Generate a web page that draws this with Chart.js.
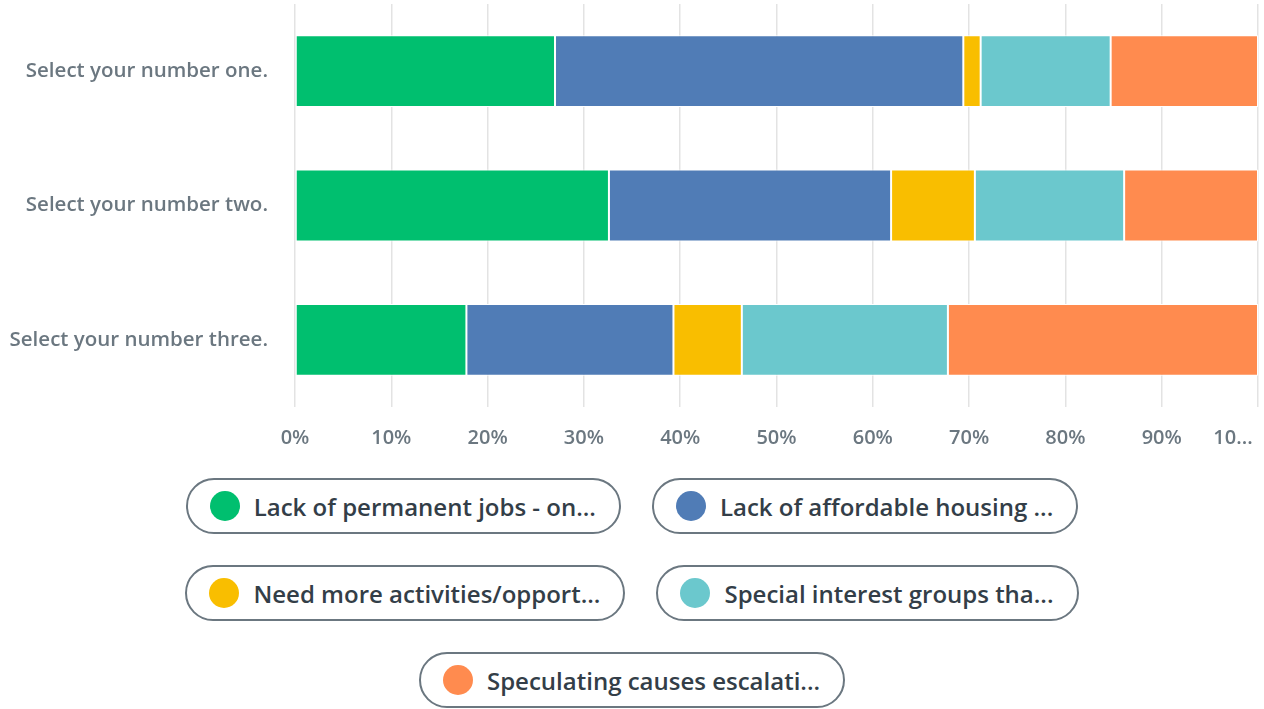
<!DOCTYPE html>
<html>
<head>
<meta charset="utf-8">
<script src="https://cdn.jsdelivr.net/npm/chart.js@4.4.1/dist/chart.umd.min.js"></script>
<style>
    html, body { margin: 0; padding: 0; background: #fff; }
    body { width: 1264px; height: 709px; overflow: hidden; font-family: "Open Sans", sans-serif; }
    #chartBox { position: relative; width: 1264px; height: 469px; }
    #legend { margin-top: 9px; display: flex; flex-direction: column; align-items: center; gap: 31px; }
    .legend-row { display: flex; justify-content: center; gap: 31px; }
    .legend-item {
        display: flex; align-items: center; height: 52px; padding: 0 23px 0 22px;
        border: 2px solid #6b7780; border-radius: 30px; box-sizing: content-box;
        font-size: 24px; font-weight: 600; color: #333e48; white-space: nowrap;
    }
    .legend-dot { width: 30px; height: 30px; border-radius: 50%; margin-right: 14px; flex: none; }
</style>
</head>
<body>
<div id="chartBox"><canvas id="barChart"></canvas></div>
<div id="legend"></div>

<script>
// DATOS
const categories = [
    "Select your number one.",
    "Select your number two.",
    "Select your number three."
];
const seriesNames = [
    "Lack of permanent jobs - on...",
    "Lack of affordable housing ...",
    "Need more activities/opport...",
    "Special interest groups tha...",
    "Speculating causes escalati..."
];
const seriesColors = ['#00bf6f', '#507cb6', '#f9be00', '#6bc8cd', '#ff8b4f'];

const jobsValues = [27.0, 32.6, 17.8];
const housingValues = [42.4, 29.3, 21.5];
const activitiesValues = [1.8, 8.7, 7.1];
const interestValues = [13.5, 15.5, 21.4];
const speculatingValues = [15.3, 13.9, 32.2];
const seriesValues = [jobsValues, housingValues, activitiesValues, interestValues, speculatingValues];

const tickValues = [0, 10, 20, 30, 40, 50, 60, 70, 80, 90, 100];
const tickLabels = ['0%', '10%', '20%', '30%', '40%', '50%', '60%', '70%', '80%', '90%', '10...'];

// GRAFICO
function createBarChart() {
    const ctx = document.getElementById('barChart').getContext('2d');
    new Chart(ctx, {
        type: 'bar',
        data: {
            labels: categories,
            datasets: seriesNames.map((name, i) => ({
                label: name,
                data: seriesValues[i],
                backgroundColor: seriesColors[i],
                borderColor: '#ffffff',
                borderWidth: 1,
                borderSkipped: false,
                barPercentage: 0.535,
                categoryPercentage: 1
            }))
        },
        options: {
            indexAxis: 'y',
            responsive: true,
            maintainAspectRatio: false,
            animation: false,
            layout: { padding: { top: 4, right: 6, left: 0, bottom: 0 } },
            scales: {
                x: {
                    stacked: true,
                    min: 0,
                    max: 100,
                    afterBuildTicks: (scale) => {
                        scale.ticks = tickValues.map(v => ({ value: v }));
                    },
                    afterFit: (scale) => {
                        scale.paddingLeft = 0;
                        scale.paddingRight = 0;
                    },
                    grid: { color: '#e3e3e3', lineWidth: 1.5, drawTicks: false },
                    border: { display: false },
                    ticks: {
                        padding: 19,
                        color: '#6b7780',
                        font: { family: 'Open Sans', size: 20, weight: '600' },
                        maxRotation: 0,
                        autoSkip: false,
                        callback: (v) => {
                            const i = tickValues.indexOf(v);
                            // el ultimo se corre a la izquierda como en el original
                            return i === tickValues.length - 1 ? tickLabels[i] + '\u2002'.repeat(5) : tickLabels[i];
                        }
                    }
                },
                y: {
                    stacked: true,
                    afterFit: (scale) => {
                        scale.width = 295;
                        scale.paddingTop = 0;
                        scale.paddingBottom = 0;
                    },
                    grid: { display: false, drawTicks: false },
                    border: { display: false },
                    ticks: {
                        padding: 27,
                        color: '#6b7780',
                        font: { family: 'Open Sans', size: 20.5, weight: '600' }
                    }
                }
            },
            plugins: {
                legend: { display: false },
                tooltip: { enabled: false }
            }
        }
    });
}

// LEYENDA
function buildLegend() {
    const rows = [[0, 1], [2, 3], [4]];
    let html = '';
    rows.forEach(row => {
        html += '<div class="legend-row">';
        row.forEach(i => {
            html += `<div class="legend-item"><span class="legend-dot" style="background:${seriesColors[i]}"></span>${seriesNames[i]}</div>`;
        });
        html += '</div>';
    });
    document.getElementById('legend').innerHTML = html;
}

createBarChart();
buildLegend();
</script>
</body>
</html>
